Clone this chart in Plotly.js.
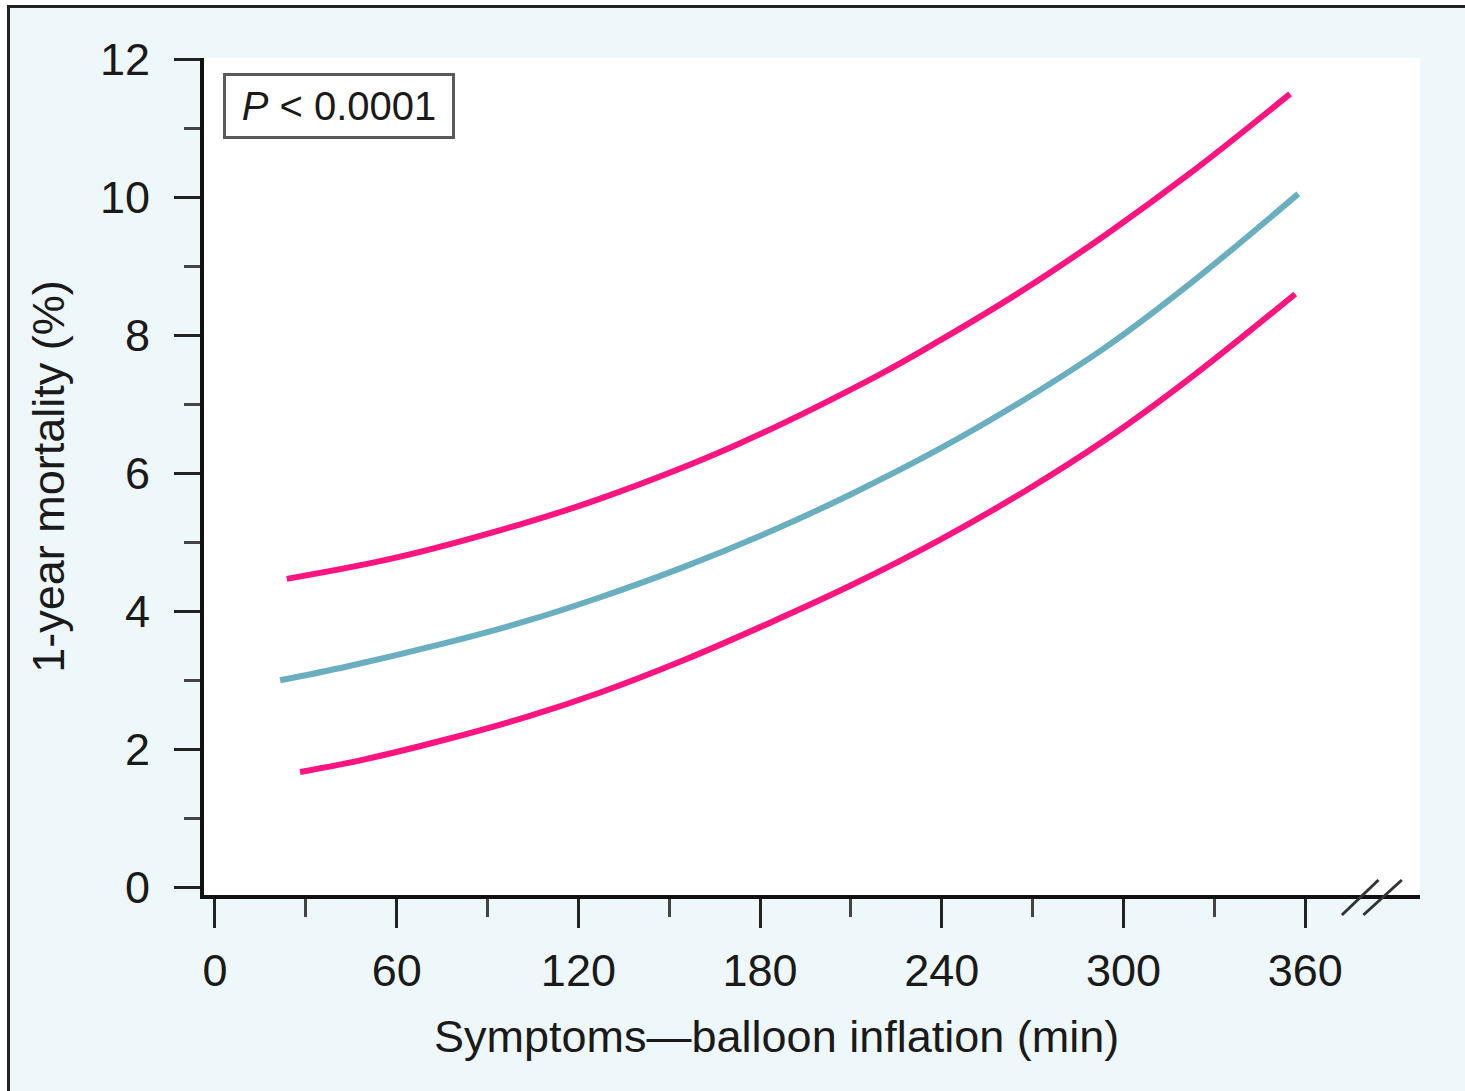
<!DOCTYPE html>
<html>
<head>
<meta charset="utf-8">
<script src="https://cdn.plot.ly/plotly-3.0.1.min.js"></script>
<style>
  html, body { margin:0; padding:0; background:#ffffff; width:1465px; height:1091px; overflow:hidden; }
  #frame { position:absolute; left:7px; top:5px; width:1500px; height:1200px;
           border-left:3px solid #222; border-top:3px solid #222; background:#eef7fa; }
  #chart { position:absolute; left:0; top:0; width:1465px; height:1091px; }
</style>
</head>
<body>
<div id="frame"></div>
<div id="chart"></div>
<script>
// ---- data ----
const upperMinutes = [23.7, 59, 100, 127, 171, 218.5, 239.5, 267, 294.5, 322, 355];
const upperMortality = [4.47, 4.77, 5.25, 5.63, 6.39, 7.41, 7.93, 8.66, 9.47, 10.35, 11.50];

const midMinutes = [21.5, 43.6, 74.3, 102.9, 127, 154.7, 182, 209.7, 239.5, 267, 294.5, 322, 357.7];
const midMortality = [3.00, 3.20, 3.52, 3.86, 4.20, 4.64, 5.13, 5.69, 6.36, 7.06, 7.84, 8.75, 10.05];

const lowerMinutes = [28.1, 48, 74.3, 102.9, 127, 154.7, 182, 209.7, 239.5, 267, 294.5, 322, 356.7];
const lowerMortality = [1.67, 1.84, 2.12, 2.47, 2.82, 3.29, 3.81, 4.37, 5.04, 5.73, 6.50, 7.38, 8.60];

const xTickVals = [0, 60, 120, 180, 240, 300, 360];
const xMinorVals = [30, 90, 150, 210, 270, 330];
const yTickVals = [0, 2, 4, 6, 8, 10, 12];
const yMinorVals = [1, 3, 5, 7, 9, 11];

const xTitle = "Symptoms\u2014balloon inflation (min)";
const yTitle = "1-year mortality (%)";
const pLabel = "<i>P</i> < 0.0001";

const PINK = "#ff1480";
const TEAL = "#6aafc0";
const FONT = "Liberation Sans, Arial, Helvetica, sans-serif";

const lineStyle = (c) => ({ color: c, width: 6, shape: "spline", smoothing: 1 });

const traces = [
  { x: upperMinutes, y: upperMortality, mode: "lines", line: lineStyle(PINK), name: "Upper 95% CI", showlegend: false, hoverinfo: "x+y" },
  { x: midMinutes, y: midMortality, mode: "lines", line: lineStyle(TEAL), name: "Estimate", showlegend: false, hoverinfo: "x+y" },
  { x: lowerMinutes, y: lowerMortality, mode: "lines", line: lineStyle(PINK), name: "Lower 95% CI", showlegend: false, hoverinfo: "x+y" }
];

const L = 204, R = 45, T = 58, B = 196;
const W = 1465, H = 1091;
const plotW = W - L - R, plotH = H - T - B;
const px2paperX = (px) => (px - L) / plotW;
const px2paperY = (py) => (H - B - py) / plotH;

const layout = {
  width: W, height: H,
  margin: { l: L, r: R, t: T, b: B, pad: 0 },
  paper_bgcolor: "rgba(0,0,0,0)",
  plot_bgcolor: "#ffffff",
  font: { family: FONT, size: 45, color: "#1a1a1a" },
  showlegend: false,
  xaxis: {
    range: [-3.63, 397.9],
    showgrid: false, zeroline: false,
    showline: true, linecolor: "#111", linewidth: 4,
    tickmode: "array", tickvals: xTickVals, ticktext: xTickVals.map(String),
    ticks: "outside", ticklen: 29, tickwidth: 3, tickcolor: "#222",
    ticklabelstandoff: 4,
    tickfont: { family: FONT, size: 45, color: "#1a1a1a" },
    minor: { tickmode: "array", tickvals: xMinorVals, ticks: "outside", ticklen: 18, tickwidth: 3, tickcolor: "#444", showgrid: false },
    fixedrange: true
  },
  yaxis: {
    range: [-0.112, 12.02],
    showgrid: false, zeroline: false,
    showline: true, linecolor: "#111", linewidth: 4,
    tickmode: "array", tickvals: yTickVals, ticktext: yTickVals.map(String),
    ticks: "outside", ticklen: 26, tickwidth: 3, tickcolor: "#222",
    ticklabelstandoff: 15,
    tickfont: { family: FONT, size: 45, color: "#1a1a1a" },
    minor: { tickmode: "array", tickvals: yMinorVals, ticks: "outside", ticklen: 16, tickwidth: 3, tickcolor: "#444", showgrid: false },
    title: { text: yTitle, font: { family: FONT, size: 45, color: "#1a1a1a" }, standoff: 22 },
    fixedrange: true
  },
  annotations: [
    { xref: "paper", yref: "paper", x: px2paperX(776), y: px2paperY(1036),
      xanchor: "center", yanchor: "middle", showarrow: false,
      text: xTitle, font: { family: FONT, size: 45, color: "#1a1a1a" } },
    { xref: "paper", yref: "paper", x: px2paperX(223), y: px2paperY(73),
      xanchor: "left", yanchor: "top", showarrow: false,
      text: pLabel, font: { family: FONT, size: 40, color: "#1a1a1a" },
      bgcolor: "#ffffff", bordercolor: "#5a5a5a", borderwidth: 3, borderpad: 0,
      width: 226, height: 60, align: "center", valign: "middle" }
  ],
  shapes: [
    { type: "line", xref: "x", yref: "paper", x0: 372.1, x1: 384.2, y0: px2paperY(915), y1: px2paperY(880),
      line: { color: "#333", width: 3 } },
    { type: "line", xref: "x", yref: "paper", x0: 379.2, x1: 391.9, y0: px2paperY(915), y1: px2paperY(880),
      line: { color: "#333", width: 3 } }
  ]
};

Plotly.newPlot("chart", traces, layout, { staticPlot: true, displayModeBar: false });
</script>
</body>
</html>
